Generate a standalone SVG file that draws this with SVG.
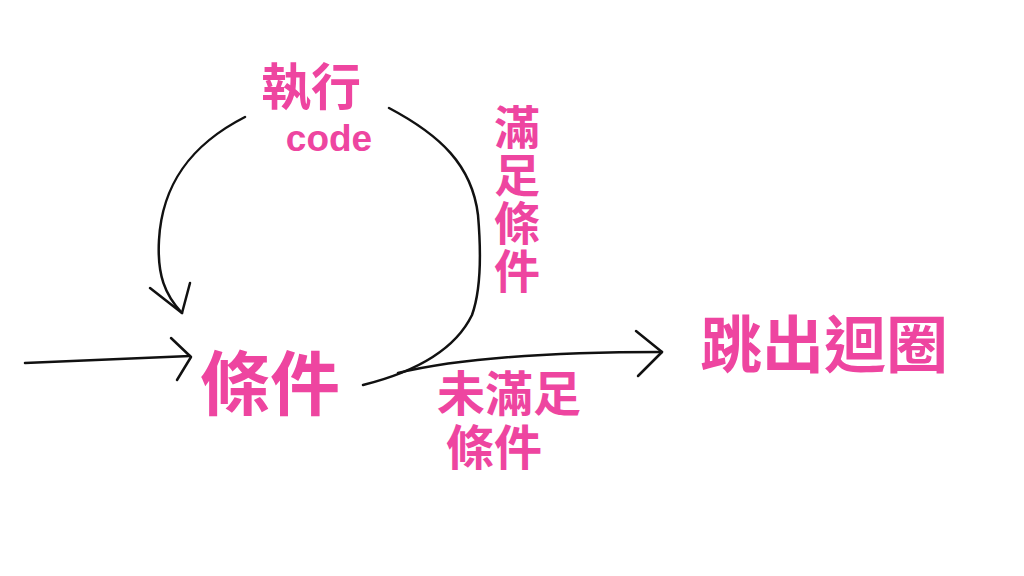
<svg xmlns="http://www.w3.org/2000/svg" width="1024" height="576" viewBox="0 0 1024 576">
<style>
.t{font-family:"Liberation Sans","Noto Sans CJK TC","Noto Sans CJK SC",sans-serif;font-weight:700;fill:#EE45A0;text-anchor:middle}
.c{fill:none;stroke:#111;stroke-width:2.5;stroke-linecap:round;stroke-linejoin:round}
</style>
<rect width="1024" height="576" fill="#fff"/>
<g id="connectors">
<path class="c" d="M25,363 L190,356"/>
<path class="c" d="M171,338 L191,357 L177,380"/>
<path class="c" d="M245,117 C190,145 162,185 159,240 C157,275 165,295 182,313"/>
<path class="c" d="M150,288 L182,313 L190,283"/>
<path class="c" d="M389,108 C440,135 472,165 478,215 C481,250 481,290 472,315 C455,350 415,372 363,385"/>
<path class="c" d="M398,373 C460,358 560,352 662,352"/>
<path class="c" d="M636,331 L662,352 L638,376"/>
</g>
<g id="label-exec">
<text class="t" x="311" y="105" font-size="50">執行</text>
<text class="t" x="329" y="151" font-size="37">code</text>
</g>
<g id="label-true">
<text class="t" x="513" y="104" font-size="46" writing-mode="vertical-rl" letter-spacing="2" style="text-anchor:start">滿足條件</text>
</g>
<g id="node-condition">
<text class="t" x="270" y="410" font-size="70">條件</text>
</g>
<g id="node-exit">
<text class="t" x="824" y="368" font-size="62">跳出迴圈</text>
</g>
<g id="label-false">
<text class="t" x="509" y="411" font-size="48">未滿足</text>
<text class="t" x="494" y="465" font-size="48">條件</text>
</g>
</svg>
